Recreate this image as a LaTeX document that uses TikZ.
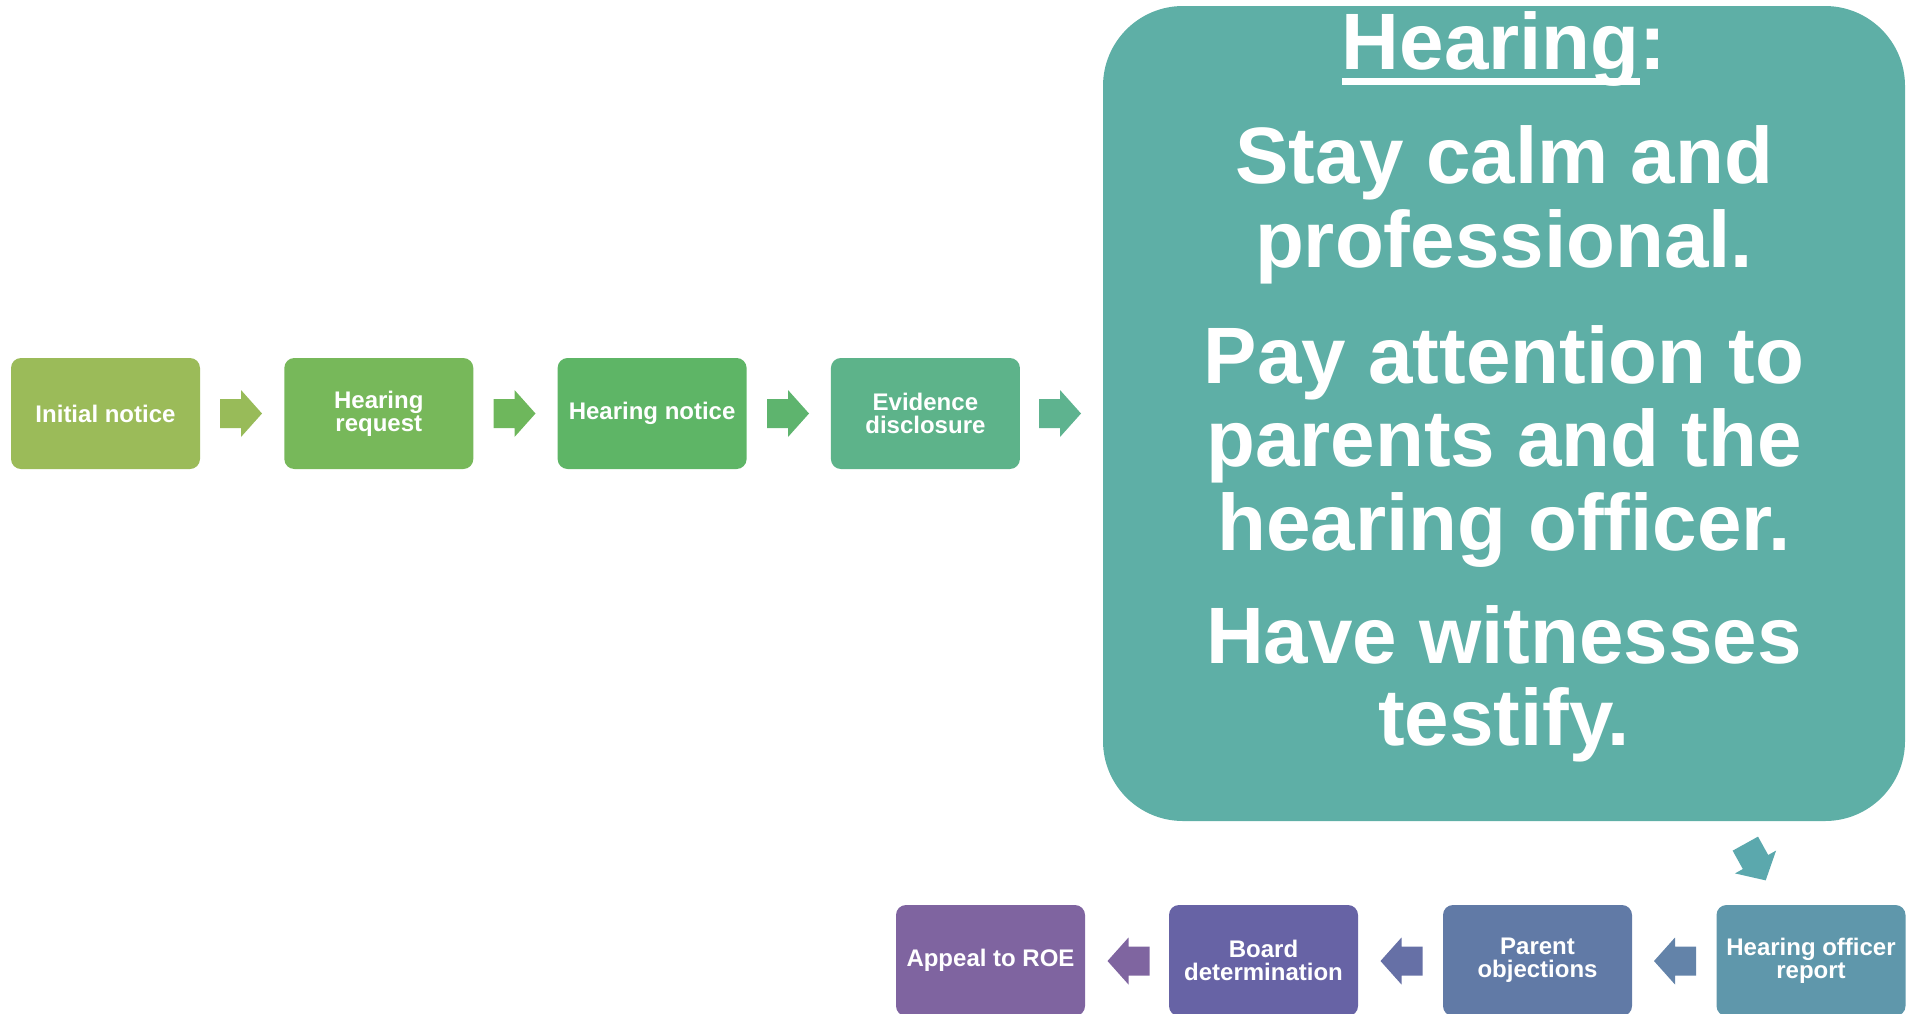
\documentclass[tikz,border=0pt]{standalone}
\usepackage{fontspec}
\setmainfont{Liberation Sans}
\definecolor{cA}{HTML}{9BBB59}
\definecolor{aA}{HTML}{98BB59}
\definecolor{cB}{HTML}{77B85A}
\definecolor{aB}{HTML}{6EB75C}
\definecolor{cC}{HTML}{5EB566}
\definecolor{aC}{HTML}{5EB46E}
\definecolor{cD}{HTML}{5DB38A}
\definecolor{aD}{HTML}{5EB38F}
\definecolor{cBig}{HTML}{5EAFA6}
\definecolor{aDiag}{HTML}{5BA8AD}
\definecolor{cE}{HTML}{5F97AB}
\definecolor{aE}{HTML}{6383A9}
\definecolor{cF}{HTML}{617AA6}
\definecolor{aF}{HTML}{6670A6}
\definecolor{cG}{HTML}{6763A5}
\definecolor{aG}{HTML}{7F65A0}
\definecolor{cH}{HTML}{7F64A0}
\newcommand\myul[1]{\setbox0\hbox{#1}\rlap{\rule[-16pt]{\wd0}{7pt}}\box0}
\tikzset{
  pbox/.style={rectangle, rounded corners=10pt, minimum width=189pt, minimum height=111pt,
    inner sep=0pt, outer sep=0pt, text=white, align=center,
    font=\fontsize{24}{23}\selectfont\bfseries},
  blockarrow/.pic={\fill[#1] (-21,-14.5) -- (0,-14.5) -- (0,-23.5) -- (21,0) -- (0,23.5)
    -- (0,14.5) -- (-21,14.5) -- cycle;},
  bigtext/.style={anchor=base, inner sep=0pt, text=white,
    font=\fontsize{80}{84}\selectfont\bfseries}
}
\begin{document}
\begin{tikzpicture}[x=1pt,y=-1pt]
\useasboundingbox (0,0) rectangle (1909,1013);
% top row
\node[pbox, fill=cA] (b1) at (105.5,413.5) {Initial notice};
\node[pbox, fill=cB] (b2) at (378.8,413.5) {Hearing\\request};
\node[pbox, fill=cC] (b3) at (652.1,413.5) {Hearing notice};
\node[pbox, fill=cD] (b4) at (925.4,413.5) {Evidence\\disclosure};
\pic (a1) at (241,413.5) {blockarrow=aA};
\pic (a2) at (514.5,413.5) {blockarrow=aB};
\pic (a3) at (788,413.5) {blockarrow=aC};
\pic (a4) at (1060,413.5) {blockarrow=aD};
% big box
\node[rectangle, rounded corners=80pt, fill=cBig, minimum width=802pt, minimum height=815pt,
  inner sep=0pt, outer sep=0pt] (big) at (1504,413.5) {};
\node[bigtext] (t0) at (1504,69) {\myul{Hearing}:};
\node[bigtext] (t1) at (1504,183) {Stay calm and};
\node[bigtext] (t2) at (1504,267) {professional.};
\node[bigtext] (t3) at (1504,383) {Pay attention to};
\node[bigtext] (t4) at (1504,466) {parents and the};
\node[bigtext] (t5) at (1504,550) {hearing officer.};
\node[bigtext] (t6) at (1504,663) {Have witnesses};
\node[bigtext] (t7) at (1504,745) {testify.};
% diagonal arrow
\pic[rotate=-61] (ad) at (1755.5,862) {blockarrow=aDiag};
% bottom row
\node[pbox, fill=cE] (b5) at (1811,960.5) {Hearing officer\\report};
\node[pbox, fill=cF] (b6) at (1537.5,960.5) {Parent\\objections};
\node[pbox, fill=cG] (b7) at (1263.5,960.5) {Board\\determination};
\node[pbox, fill=cH] (b8) at (990.5,960.5) {Appeal to ROE};
\pic[rotate=180] (a5) at (1675,961) {blockarrow=aE};
\pic[rotate=180] (a6) at (1401.5,961) {blockarrow=aF};
\pic[rotate=180] (a7) at (1128.5,961) {blockarrow=aG};
\end{tikzpicture}
\end{document}
